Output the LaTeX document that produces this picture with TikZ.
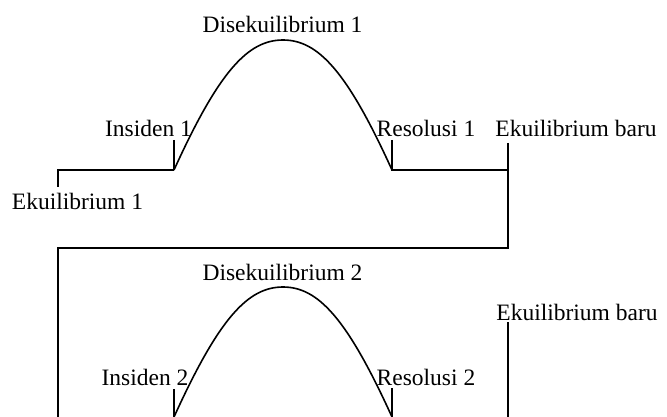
\documentclass[tikz,border=0pt]{standalone}
\usepackage{fontspec}
\setmainfont{Liberation Serif}
\begin{document}
\begin{tikzpicture}[x=1pt,y=-1pt,
  lbl/.style={inner sep=0pt,anchor=base,font=\fontsize{23.5}{28}\selectfont},
  ln/.style={line width=1.6pt,line join=miter}]
\useasboundingbox (0,0) rectangle (667,417);
% labels
\node[lbl] (dis1) at (282.5,33) {Disekuilibrium 1};
\node[lbl] (ins1) at (148.5,137) {Insiden 1};
\node[lbl] (ek1) at (77.5,210) {Ekuilibrium 1};
\node[lbl] (res1) at (426,137) {Resolusi 1};
\node[lbl] (baru1) at (576,137) {Ekuilibrium baru};
\node[lbl] (dis2) at (282.5,280) {Disekuilibrium 2};
\node[lbl] (ins2) at (145,385) {Insiden 2};
\node[lbl] (res2) at (426,385) {Resolusi 2};
\node[lbl] (baru2) at (577,320) {Ekuilibrium baru};
% points, first episode
\coordinate (e1t) at (58,187);
\coordinate (e1) at (58,170);
\coordinate (i1) at (174,170);
\coordinate (i1t) at (174,140);
\coordinate (p1) at (283,40);
\coordinate (r1) at (392,170);
\coordinate (r1t) at (392,140);
\coordinate (b1) at (508,170);
\coordinate (b1t) at (508,143);
\coordinate (b1d) at (508,248);
\coordinate (l1) at (58,248);
\coordinate (l2) at (58,417);
% points, second episode
\coordinate (i2) at (174,417);
\coordinate (i2t) at (174,389);
\coordinate (p2) at (283,287);
\coordinate (r2) at (392,417);
\coordinate (r2t) at (392,388);
\coordinate (b2t) at (508,322);
\coordinate (b2) at (508,417);
% first episode lines
\draw[ln] (e1t) -- (e1) -- (i1);
\draw[ln] (i1t) -- (i1);
\draw[ln] (i1) .. controls +(45,-99) and +(-35,0) .. (p1)
          .. controls +(35,0) and +(-45,-99) .. (r1);
\draw[ln] (r1t) -- (r1) -- (b1);
\draw[ln] (b1t) -- (b1d) -- (l1) -- (l2);
% second episode lines
\draw[ln] (i2t) -- (i2);
\draw[ln] (i2) .. controls +(45,-99) and +(-35,0) .. (p2)
          .. controls +(35,0) and +(-45,-99) .. (r2);
\draw[ln] (r2t) -- (r2);
\draw[ln] (b2t) -- (b2);
\end{tikzpicture}
\end{document}
